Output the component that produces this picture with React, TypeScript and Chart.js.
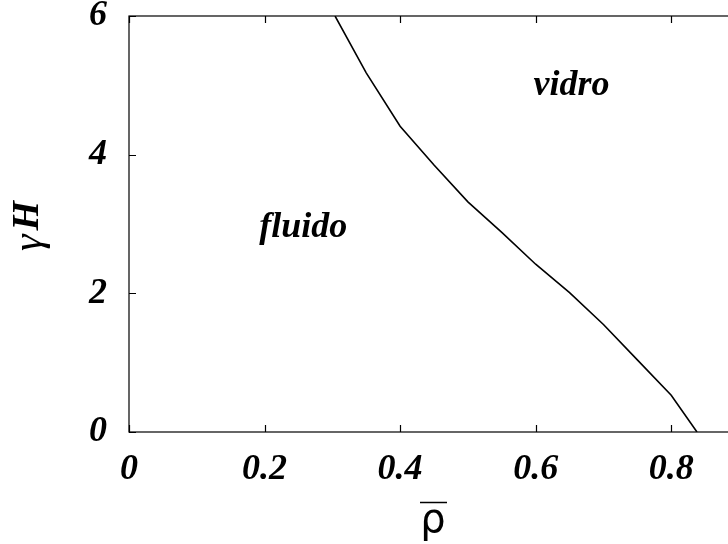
import React, { useEffect, useRef } from 'react';
import { Chart, registerables } from 'chart.js';

Chart.register(...registerables);

// Phase boundary: reduced density vs. field strength
const densities = [0.304, 0.35, 0.40, 0.45, 0.50, 0.55, 0.60, 0.65, 0.70, 0.75, 0.80, 0.838];
const fieldValues = [6.0, 5.18, 4.41, 3.85, 3.32, 2.88, 2.42, 2.01, 1.55, 1.04, 0.53, 0.0];

const xTicks = [0, 0.2, 0.4, 0.6, 0.8];
const xTickLabels = ['0', '0.2', '0.4', '0.6', '0.8'];
const yTicks = [0, 2, 4, 6];
const yTickLabels = ['0', '2', '4', '6'];

// Region names placed in data coordinates
const regionNames = ['fluido', 'vidro'];
const regionX = [0.257, 0.653];
const regionY = [2.94, 4.99];

const SERIF = '"Liberation Serif", "Times New Roman", serif';
const tickFont = { family: SERIF, size: 36, style: 'italic' as const, weight: 'bold' as const, lineHeight: 1.2 };

const framePlugin = {
  id: 'phaseFrame',
  afterDraw(chart: any) {
    const { ctx, chartArea: a, scales } = chart;
    const xs = scales.x;
    const ys = scales.y;
    ctx.save();
    ctx.strokeStyle = '#000';
    ctx.lineWidth = 1.2;
    ctx.strokeRect(a.left, a.top, a.right - a.left, a.bottom - a.top);

    // inward ticks on all four sides
    const len = 7;
    ctx.beginPath();
    xTicks.forEach((v) => {
      const px = Math.round(xs.getPixelForValue(v)) + 0.5;
      ctx.moveTo(px, a.bottom);
      ctx.lineTo(px, a.bottom - len);
      ctx.moveTo(px, a.top);
      ctx.lineTo(px, a.top + len);
    });
    yTicks.forEach((v) => {
      const py = Math.round(ys.getPixelForValue(v)) + 0.5;
      ctx.moveTo(a.left, py);
      ctx.lineTo(a.left + len, py);
      ctx.moveTo(a.right, py);
      ctx.lineTo(a.right - len, py);
    });
    ctx.stroke();

    // region names
    ctx.fillStyle = '#000';
    ctx.font = `italic bold 36px ${SERIF}`;
    ctx.textAlign = 'center';
    ctx.textBaseline = 'middle';
    regionNames.forEach((name, i) => {
      ctx.fillText(name, xs.getPixelForValue(regionX[i]), ys.getPixelForValue(regionY[i]));
    });

    // x axis title: rho with an overbar
    const cx = (a.left + a.right) / 2;
    ctx.font = '40px "DejaVu Sans", sans-serif';
    ctx.textAlign = 'center';
    ctx.textBaseline = 'alphabetic';
    ctx.fillText('ρ', cx - 1, a.bottom + 100);
    ctx.lineWidth = 1.5;
    ctx.beginPath();
    ctx.moveTo(cx - 14, a.bottom + 70.5);
    ctx.lineTo(cx + 13, a.bottom + 70.5);
    ctx.stroke();

    // y axis title: gamma H, rotated
    ctx.translate(28, (a.top + a.bottom) / 2 + 2);
    ctx.rotate(-Math.PI / 2);
    ctx.textBaseline = 'middle';
    ctx.textAlign = 'left';
    const gFont = `italic 42px ${SERIF}`;
    const hFont = `italic bold 38px ${SERIF}`;
    ctx.font = gFont;
    const gw = ctx.measureText('γ').width;
    ctx.font = hFont;
    const hw = ctx.measureText('H').width;
    const gap = 4;
    const start = -(gw + gap + hw) / 2;
    ctx.font = gFont;
    ctx.fillText('γ', start, 2);
    ctx.font = hFont;
    ctx.fillText('H', start + gw + gap, 0);
    ctx.restore();
  },
};

export default function App() {
  const canvasRef = useRef<HTMLCanvasElement | null>(null);

  useEffect(() => {
    const canvas = canvasRef.current;
    if (!canvas) return;
    const chart = new Chart(canvas, {
      type: 'line',
      data: {
        datasets: [
          {
            data: densities.map((d, i) => ({ x: d, y: fieldValues[i] })),
            borderColor: '#000',
            borderWidth: 1.6,
            pointRadius: 0,
            tension: 0,
            fill: false,
          },
        ],
      },
      options: {
        animation: false,
        responsive: false,
        devicePixelRatio: 1,
        layout: { padding: { top: 16, right: 21, left: 0, bottom: 0 } },
        plugins: { legend: { display: false }, tooltip: { enabled: false } },
        scales: {
          x: {
            type: 'linear',
            min: 0,
            max: 0.9,
            grid: { display: false, drawTicks: false },
            border: { display: false },
            afterBuildTicks: (s: any) => {
              s.ticks = xTicks.map((v) => ({ value: v }));
            },
            afterFit: (s: any) => {
              s.height = 112;
              s.paddingLeft = 0;
              s.paddingRight = 0;
            },
            ticks: {
              color: '#000',
              font: tickFont,
              padding: 16,
              maxRotation: 0,
              autoSkip: false,
              callback: (v: any) => xTickLabels[xTicks.indexOf(Number(v))] ?? '',
            },
          },
          y: {
            type: 'linear',
            min: 0,
            max: 6,
            grid: { display: false, drawTicks: false },
            border: { display: false },
            afterBuildTicks: (s: any) => {
              s.ticks = yTicks.map((v) => ({ value: v }));
            },
            afterFit: (s: any) => {
              s.width = 129;
              s.paddingTop = 0;
              s.paddingBottom = 0;
            },
            ticks: {
              color: '#000',
              font: tickFont,
              padding: 22,
              autoSkip: false,
              callback: (v: any) => yTickLabels[yTicks.indexOf(Number(v))] ?? '',
            },
          },
        },
      },
      plugins: [framePlugin],
    });
    return () => chart.destroy();
  }, []);

  return (
    <div
      style={{
        position: 'absolute',
        left: 0,
        top: 0,
        width: 728,
        height: 544,
        overflow: 'hidden',
        background: '#fff',
      }}
    >
      <canvas ref={canvasRef} width={760} height={544} style={{ display: 'block', width: 760, height: 544 }} />
    </div>
  );
}
